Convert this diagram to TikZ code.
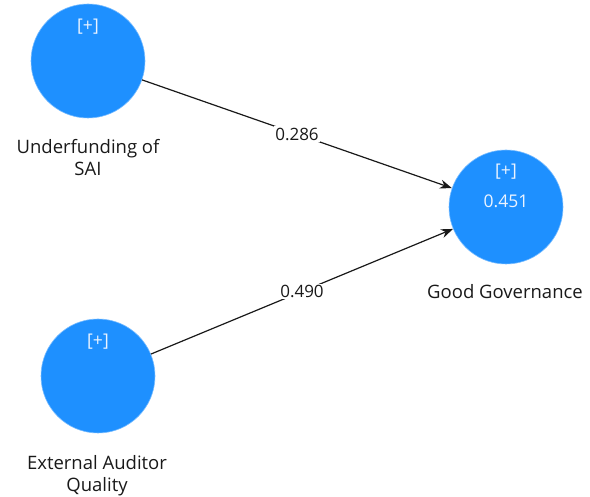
\documentclass[tikz,border=0pt]{standalone}
\usepackage{fontspec}
\setmainfont{Open Sans}
\usetikzlibrary{arrows.meta}
\definecolor{lvblue}{RGB}{30,144,255}
\definecolor{lvtext}{RGB}{236,244,255}
\definecolor{lbltext}{RGB}{25,25,25}
\tikzset{
  lv/.style={circle, fill=lvblue, draw=lvblue!60!white, line width=0.6pt, minimum size=114pt, inner sep=0pt},
  intxt/.style={text=lvtext, font=\fontsize{17.5}{20}\selectfont, inner sep=0pt},
  lbl/.style={text=lbltext, font=\fontsize{18.5}{22}\selectfont, align=center, inner sep=0pt, anchor=north},
  path/.style={draw=black!90, line width=1.2pt, -{Stealth[length=12pt,width=9pt]}},
  coef/.style={fill=white, text=lbltext, font=\fontsize{17}{20}\selectfont, inner sep=1.5pt}
}
\begin{document}
\begin{tikzpicture}[x=1pt,y=-1pt]
\useasboundingbox (0,0) rectangle (590,497);
\node[lv] (A) at (88,61) {};
\node[lv] (B) at (98,376) {};
\node[lv] (G) at (506,207) {};
\node[intxt] (Ap) at (88,27) {[+]};
\node[intxt] (Bp) at (98,342) {[+]};
\node[intxt] (Gp) at (506,172) {[+]};
\node[intxt] (Gr) at (506,201) {0.451};
\node[lbl] (Al) at (88,139) {Underfunding of\\SAI};
\node[lbl] (Bl) at (97,455) {External Auditor\\Quality};
\node[lbl] (Gl) at (505,284) {Good Governance};
\draw[path] (A) -- node[coef] (c1) {0.286} (G);
\draw[path] (B) -- node[coef] (c2) {0.490} (G);
\end{tikzpicture}
\end{document}
